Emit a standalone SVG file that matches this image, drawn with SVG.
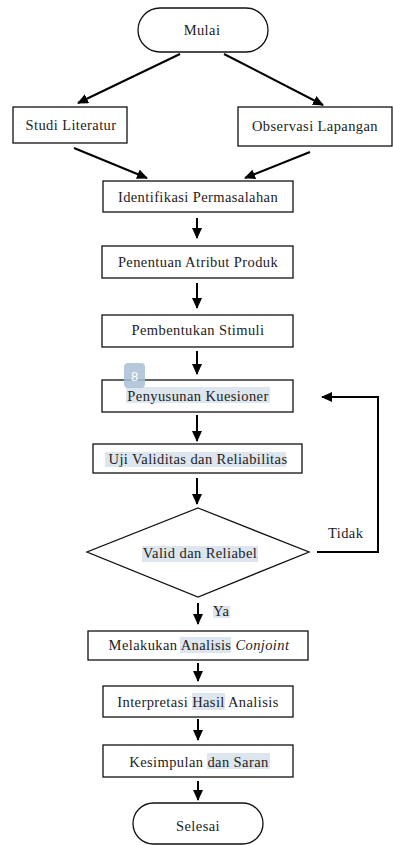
<svg xmlns="http://www.w3.org/2000/svg" width="393" height="845" viewBox="0 0 393 845">
<style>
.box{fill:#fff;stroke:#111;stroke-width:1.3}
.t{font-family:'Liberation Serif','DejaVu Serif',serif;font-size:14.5px;fill:#222;text-anchor:middle;letter-spacing:0.4px}
.tl{font-family:'Liberation Serif','DejaVu Serif',serif;font-size:14.5px;fill:#222;letter-spacing:0.4px}
.hl{fill:#dde5ee}
.c{fill:none;stroke:#000;stroke-width:2;marker-end:url(#ah)}
</style>
<defs>
<marker id="ah" markerUnits="userSpaceOnUse" markerWidth="11" markerHeight="10" refX="10" refY="5" orient="auto">
<path d="M0,0 L11,5 L0,10 z" fill="#000"/>
</marker>
</defs>
<rect width="393" height="845" fill="#fff"/>
<g id="connectors">
<line class="c" x1="180" y1="54" x2="78" y2="103"/>
<line class="c" x1="224" y1="54" x2="323" y2="105"/>
<line class="c" x1="74" y1="148" x2="147" y2="178"/>
<line class="c" x1="310" y1="152" x2="245" y2="178"/>
<line class="c" x1="197" y1="218" x2="197" y2="238"/>
<line class="c" x1="197" y1="283" x2="197" y2="308"/>
<line class="c" x1="197" y1="351" x2="197" y2="374"/>
<line class="c" x1="197" y1="415" x2="197" y2="441"/>
<line class="c" x1="197" y1="478" x2="197" y2="504"/>
<line class="c" x1="198" y1="603" x2="198" y2="624"/>
<line class="c" x1="198" y1="663" x2="198" y2="681"/>
<line class="c" x1="198" y1="719" x2="198" y2="740"/>
<line class="c" x1="198" y1="781" x2="198" y2="800"/>
<polyline class="c" points="317,552 378,552 378,397 322,397"/>
</g>
<g id="mulai"><rect class="box" x="138" y="8" width="130" height="44" rx="22"/><text class="t" x="202" y="35">Mulai</text></g>
<g id="studi"><rect class="box" x="13" y="107" width="114" height="36"/><text class="t" x="71" y="130">Studi Literatur</text></g>
<g id="observasi"><rect class="box" x="238" y="107" width="154" height="39"/><text class="t" x="315" y="131">Observasi Lapangan</text></g>
<g id="identifikasi"><rect class="box" x="103" y="181" width="190" height="31"/><text class="t" x="198" y="202">Identifikasi Permasalahan</text></g>
<g id="penentuan"><rect class="box" x="102" y="246" width="191" height="32"/><text class="t" x="198" y="267">Penentuan Atribut Produk</text></g>
<g id="pembentukan"><rect class="box" x="102" y="315" width="191" height="32"/><text class="t" x="198" y="335">Pembentukan Stimuli</text></g>
<g id="penyusunan"><rect class="box" x="102" y="380" width="191" height="32"/><rect class="hl" x="126" y="387" width="144" height="16"/><text class="t" x="198" y="401">Penyusunan Kuesioner</text></g>
<g id="badge"><rect x="124" y="363" width="21" height="25" rx="4" fill="#a9c0d6" opacity="0.85"/><text x="134.5" y="381" font-family="Liberation Sans, Arial, sans-serif" font-size="13" fill="#fff" text-anchor="middle">8</text></g>
<g id="uji"><rect class="box" x="93" y="444" width="209" height="29"/><rect class="hl" x="105" y="452" width="181" height="15"/><text class="t" x="198" y="464">Uji Validitas dan Reliabilitas</text></g>
<g id="valid"><polygon class="box" points="198,508 309,552 198,597 87,552"/><rect class="hl" x="142" y="546" width="116" height="16"/><text class="t" x="200" y="558">Valid dan Reliabel</text></g>
<g id="label-tidak"><text class="tl" x="328" y="538">Tidak</text></g>
<g id="label-ya"><rect class="hl" x="213" y="606" width="17" height="12"/><text class="tl" x="213" y="616">Ya</text></g>
<g id="melakukan"><rect class="box" x="88" y="631" width="220" height="29"/><rect class="hl" x="180" y="637" width="51" height="16"/><text class="t" x="199" y="650">Melakukan Analisis <tspan font-style="italic">Conjoint</tspan></text></g>
<g id="interpretasi"><rect class="box" x="103" y="686" width="190" height="31"/><rect class="hl" x="192" y="693" width="33" height="17"/><text class="t" x="198" y="707">Interpretasi Hasil Analisis</text></g>
<g id="kesimpulan"><rect class="box" x="103" y="745" width="190" height="32"/><rect class="hl" x="207" y="753" width="63" height="16"/><text class="t" x="199" y="767">Kesimpulan dan Saran</text></g>
<g id="selesai"><rect class="box" x="133" y="803" width="130" height="41" rx="20.5"/><text class="t" x="198" y="831">Selesai</text></g>
</svg>
